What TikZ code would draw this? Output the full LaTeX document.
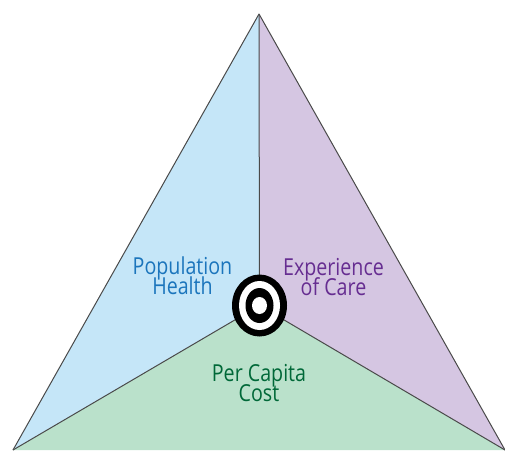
\documentclass[tikz,border=0pt]{standalone}
\usepackage{fontspec}
\setmainfont[FakeStretch=0.84]{Open Sans}
\definecolor{cblue}{HTML}{C5E6F8}
\definecolor{cpurple}{HTML}{D5C6E2}
\definecolor{cgreen}{HTML}{BAE1CB}
\definecolor{tblue}{HTML}{1B75BC}
\definecolor{tpurple}{HTML}{662D91}
\definecolor{tgreen}{HTML}{006838}
\definecolor{cline}{HTML}{4A4A4A}
\newcommand{\labfont}{\fontsize{23.4}{20}\selectfont\lineskiplimit=-30pt\relax}
\tikzset{
  wedge/.style={draw=cline,line width=1pt,line join=round},
  lab/.style={align=center,font=\labfont,inner sep=0pt},
}
\begin{document}
\begin{tikzpicture}[x=1pt,y=-1pt]
\useasboundingbox (0,0) rectangle (505,450);
\coordinate (apex) at (259,14);
\coordinate (left) at (13,450);
\coordinate (right) at (505,450);
\coordinate (mid) at (259.5,305.5);
\begin{scope}
\clip (0,0) rectangle (505,450);
\fill[cgreen] (left) -- (mid) -- (right) -- cycle;
\fill[cblue] (apex) -- (mid) -- (left) -- cycle;
\fill[cpurple] (apex) -- (right) -- (mid) -- cycle;
\draw[wedge] (left) -- (apex) -- (right);
\draw[wedge] (apex) -- (mid);
\draw[wedge] (left) -- (mid) -- (right);
\end{scope}
\fill[black] (mid) ellipse [x radius=27.5,y radius=31];
\fill[white] (mid) ellipse [x radius=20.5,y radius=24.5];
\fill[black] (mid) ellipse [x radius=14,y radius=17.5];
\fill[white] (mid) ellipse [x radius=7.5,y radius=8.5];
\node[lab,text=tblue] (pop) at (182.5,276) {Population\\Health};
\node[lab,text=tpurple] (exp) at (333.5,277) {Experience\\of Care};
\node[lab,text=tgreen] (cost) at (259,383) {Per Capita\\Cost};
\end{tikzpicture}
\end{document}
